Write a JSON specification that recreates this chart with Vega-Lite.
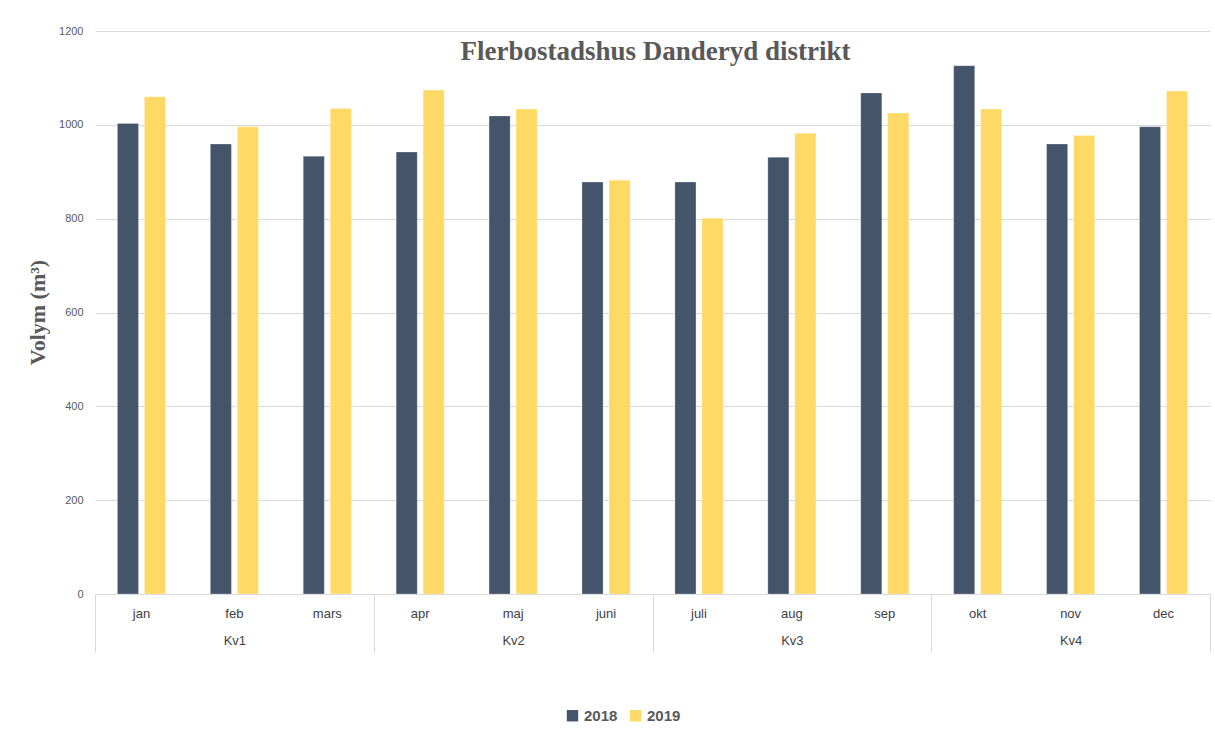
{
  "$schema": "https://vega.github.io/schema/vega-lite/v6.json",
  "width": 1115,
  "height": 563,
  "autosize": {"type": "none"},
  "padding": {"left": 95, "top": 31, "right": 5, "bottom": 139},
  "background": "white",
  "config": {
    "view": {"stroke": null},
    "axis": {"labelFont": "Liberation Sans", "titleFont": "Liberation Serif"}
  },
  "data": {
    "values": [
      {"month": "jan", "kv": "Kv1", "year": "2018", "value": 1003},
      {"month": "jan", "kv": "Kv1", "year": "2019", "value": 1060},
      {"month": "feb", "kv": "Kv1", "year": "2018", "value": 959},
      {"month": "feb", "kv": "Kv1", "year": "2019", "value": 996},
      {"month": "mars", "kv": "Kv1", "year": "2018", "value": 933},
      {"month": "mars", "kv": "Kv1", "year": "2019", "value": 1035},
      {"month": "apr", "kv": "Kv2", "year": "2018", "value": 942},
      {"month": "apr", "kv": "Kv2", "year": "2019", "value": 1074},
      {"month": "maj", "kv": "Kv2", "year": "2018", "value": 1019},
      {"month": "maj", "kv": "Kv2", "year": "2019", "value": 1034},
      {"month": "juni", "kv": "Kv2", "year": "2018", "value": 878},
      {"month": "juni", "kv": "Kv2", "year": "2019", "value": 882},
      {"month": "juli", "kv": "Kv3", "year": "2018", "value": 878},
      {"month": "juli", "kv": "Kv3", "year": "2019", "value": 801},
      {"month": "aug", "kv": "Kv3", "year": "2018", "value": 931},
      {"month": "aug", "kv": "Kv3", "year": "2019", "value": 982},
      {"month": "sep", "kv": "Kv3", "year": "2018", "value": 1068},
      {"month": "sep", "kv": "Kv3", "year": "2019", "value": 1025},
      {"month": "okt", "kv": "Kv4", "year": "2018", "value": 1126},
      {"month": "okt", "kv": "Kv4", "year": "2019", "value": 1034},
      {"month": "nov", "kv": "Kv4", "year": "2018", "value": 959},
      {"month": "nov", "kv": "Kv4", "year": "2019", "value": 977},
      {"month": "dec", "kv": "Kv4", "year": "2018", "value": 996},
      {"month": "dec", "kv": "Kv4", "year": "2019", "value": 1072}
    ]
  },
  "layer": [
    {
      "mark": {"type": "bar", "stroke": "white", "strokeOpacity": 0.5, "strokeWidth": 0.5},
      "encoding": {
        "x": {
          "field": "month",
          "type": "nominal",
          "sort": ["jan", "feb", "mars", "apr", "maj", "juni", "juli", "aug", "sep", "okt", "nov", "dec"],
          "scale": {"paddingInner": 0, "paddingOuter": 0},
          "axis": {
            "title": "Flerbostadshus Danderyd distrikt",
            "titleFont": "Liberation Serif",
            "titleFontSize": 27,
            "titleFontWeight": "bold",
            "titleColor": "#595959",
            "titleX": 560,
            "titleY": -535,
            "titleAlign": "center",
            "titleBaseline": "alphabetic",
            "titleAngle": 0,
            "labelAngle": 0,
            "labelFontSize": 13,
            "labelColor": "#404040",
            "labelPadding": 13,
            "ticks": false,
            "tickSize": 0,
            "domain": true,
            "domainColor": "#D9D9D9",
            "domainWidth": 1
          }
        },
        "xOffset": {
          "field": "year",
          "type": "nominal",
          "scale": {"paddingInner": 0.22, "paddingOuter": 0.83}
        },
        "y": {
          "field": "value",
          "type": "quantitative",
          "scale": {"domain": [0, 1200], "nice": false},
          "axis": {
            "title": "Volym (m³)",
            "titleFontSize": 22,
            "titleFontWeight": "bold",
            "titleColor": "#595959",
            "titleX": -58,
            "titleY": 281,
            "titleAngle": -90,
            "titleBaseline": "middle",
            "titleAlign": "center",
            "values": [0, 200, 400, 600, 800, 1000, 1200],
            "format": "d",
            "labelFontSize": 11,
            "labelColor": "#595959",
            "labelPadding": 12,
            "ticks": false,
            "domain": false,
            "grid": true,
            "gridColor": "#D9D9D9",
            "gridWidth": 1
          }
        },
        "color": {
          "field": "year",
          "type": "nominal",
          "scale": {"domain": ["2018", "2019"], "range": ["#44546A", "#FFD966"]},
          "legend": {
            "title": null,
            "orient": "none",
            "direction": "horizontal",
            "legendX": 470,
            "legendY": 677,
            "symbolType": "square",
            "symbolSize": 130,
            "symbolStrokeWidth": 0,
            "symbolOpacity": 1,
            "labelFont": "Liberation Sans",
            "labelFontSize": 15,
            "labelFontWeight": "bold",
            "labelColor": "#595959",
            "labelOffset": 4,
            "columnPadding": 10
          }
        }
      }
    },
    {
      "mark": {"type": "bar", "opacity": 0},
      "encoding": {
        "x": {
          "field": "kv",
          "type": "nominal",
          "sort": ["Kv1", "Kv2", "Kv3", "Kv4"],
          "scale": {"paddingInner": 0, "paddingOuter": 0},
          "axis": {
            "title": null,
            "orient": "bottom",
            "labelAngle": 0,
            "labelFontSize": 13,
            "labelColor": "#404040",
            "labelBaseline": "top",
            "labelPadding": -18,
            "ticks": true,
            "tickBand": "extent",
            "tickSize": 58,
            "tickColor": "#D9D9D9",
            "tickWidth": 1,
            "domain": false
          }
        },
        "y": {"field": "value", "type": "quantitative"}
      }
    }
  ],
  "resolve": {"scale": {"x": "independent"}, "axis": {"x": "independent"}}
}
